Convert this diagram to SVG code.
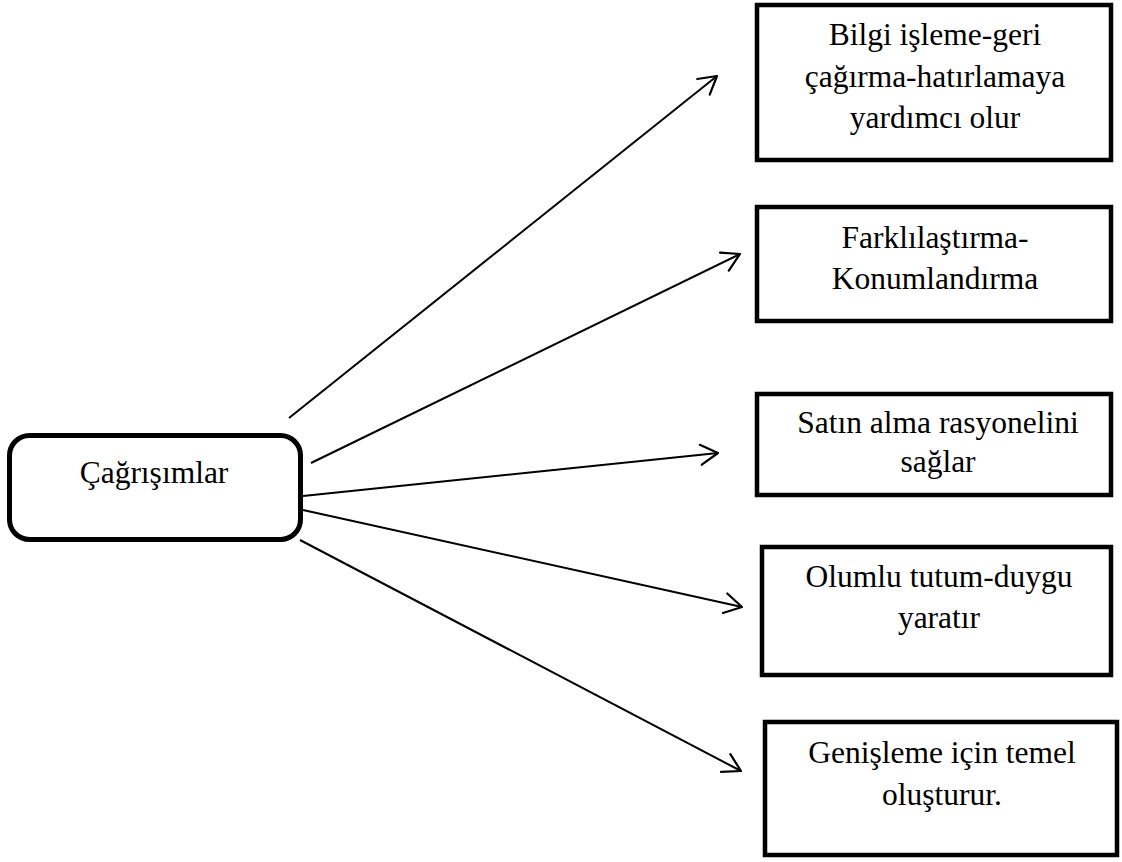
<svg xmlns="http://www.w3.org/2000/svg" width="1122" height="862" viewBox="0 0 1122 862">
<style>
.box{fill:#fff;stroke:#000;stroke-width:4.5}
.hub{fill:#fff;stroke:#000;stroke-width:5}
.t{font-family:"Liberation Serif","Times New Roman",serif;font-size:31.5px;fill:#000;text-anchor:middle}
.c{stroke:#000;stroke-width:2;fill:none;marker-end:url(#ah)}
</style>
<defs>
<marker id="ah" markerUnits="userSpaceOnUse" viewBox="-20 -12 22 24" refX="0" refY="0" markerWidth="22" markerHeight="24" orient="auto">
<path d="M-17.3,-10 L0,0 L-17.3,10" fill="none" stroke="#000" stroke-width="2.2" stroke-linecap="round" stroke-linejoin="round"/>
</marker>
</defs>
<rect width="1122" height="862" fill="#fff"/>
<g id="connectors">
<line class="c" x1="289" y1="418" x2="717" y2="76"/>
<line class="c" x1="311" y1="463" x2="740" y2="254"/>
<line class="c" x1="303" y1="496" x2="718" y2="453"/>
<line class="c" x1="303" y1="510" x2="742" y2="607"/>
<line class="c" x1="300" y1="540" x2="741" y2="771"/>
</g>
<g id="hub">
<rect class="hub" x="9.5" y="435.5" width="291" height="104" rx="20" ry="20"/>
<text class="t" x="154" y="483">Çağrışımlar</text>
</g>
<g id="n1">
<rect class="box" x="757" y="5" width="354" height="155"/>
<text class="t" x="935" y="45">Bilgi işleme-geri</text>
<text class="t" x="935" y="87">çağırma-hatırlamaya</text>
<text class="t" x="935" y="128">yardımcı olur</text>
</g>
<g id="n2">
<rect class="box" x="757" y="207" width="354" height="114"/>
<text class="t" x="935" y="248">Farklılaştırma-</text>
<text class="t" x="935" y="289">Konumlandırma</text>
</g>
<g id="n3">
<rect class="box" x="757" y="394" width="354" height="101"/>
<text class="t" x="938" y="433">Satın alma rasyonelini</text>
<text class="t" x="938" y="472">sağlar</text>
</g>
<g id="n4">
<rect class="box" x="762" y="547" width="349" height="128"/>
<text class="t" x="939" y="587">Olumlu tutum-duygu</text>
<text class="t" x="939" y="628">yaratır</text>
</g>
<g id="n5">
<rect class="box" x="765" y="722" width="352" height="133"/>
<text class="t" x="942" y="763">Genişleme için temel</text>
<text class="t" x="942" y="805">oluşturur.</text>
</g>
</svg>
